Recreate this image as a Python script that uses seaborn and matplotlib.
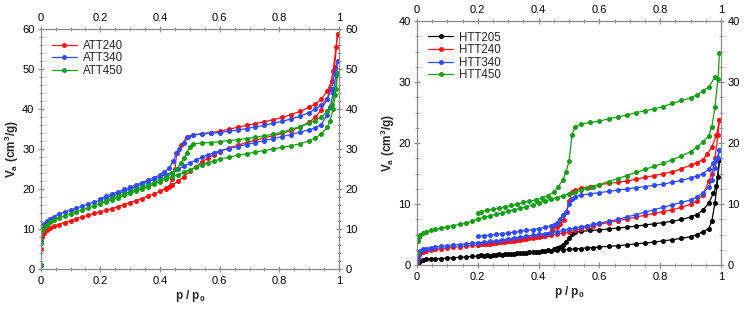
import numpy as np
import pandas as pd
import matplotlib
matplotlib.use("Agg")
import matplotlib.pyplot as plt
from matplotlib.lines import Line2D
from matplotlib.ticker import MultipleLocator, FuncFormatter
import seaborn as sns

# ---------------- data: left panel (ATT) ----------------
p_ads = [0.0005, 0.002, 0.005, 0.01, 0.02, 0.03, 0.045, 0.06, 0.08, 0.1, 0.12, 0.14, 0.16, 0.18,
         0.2, 0.22, 0.24, 0.26, 0.28, 0.3, 0.32, 0.34, 0.36, 0.38, 0.4, 0.42, 0.44, 0.46, 0.48,
         0.5, 0.52, 0.54, 0.56, 0.58, 0.6, 0.63, 0.66, 0.69, 0.72, 0.75, 0.78, 0.81, 0.84, 0.87,
         0.9, 0.92, 0.94, 0.96, 0.97, 0.98, 0.99, 0.995]

ATT240_ads = [1.0, 5.0, 8.0, 9.0, 9.8, 10.3, 10.8, 11.2, 11.7, 12.2, 12.7, 13.1, 13.5, 14.0,
              14.4, 14.8, 15.2, 15.7, 16.2, 16.7, 17.2, 17.7, 18.3, 18.9, 19.5, 20.3, 21.0, 22.0, 23.2,
              24.5, 25.7, 26.8, 27.8, 28.7, 29.4, 30.3, 31.0, 31.7, 32.3, 32.9, 33.4, 34.0, 34.7, 35.6,
              36.8, 38.0, 39.8, 42.5, 45.0, 49.5, 55.5, 58.8]
ATT340_ads = [1.0, 7.0, 10.2, 11.3, 12.0, 12.6, 13.2, 13.8, 14.3, 14.8, 15.3, 15.8, 16.3, 16.8,
              17.3, 17.9, 18.4, 19.0, 19.5, 20.1, 20.7, 21.3, 21.9, 22.5, 23.1, 23.7, 24.2, 25.0, 25.8,
              26.6, 27.3, 28.0, 28.6, 29.1, 29.6, 30.2, 30.7, 31.2, 31.7, 32.2, 32.7, 33.2, 33.7, 34.3,
              34.9, 35.3, 36.2, 38.5, 40.5, 44.0, 48.5, 52.0]
ATT450_ads = [1.0, 6.5, 9.5, 10.6, 11.2, 11.8, 12.4, 12.9, 13.4, 13.9, 14.4, 14.9, 15.4, 15.9,
              16.4, 16.9, 17.4, 17.9, 18.5, 19.0, 19.6, 20.1, 20.7, 21.3, 21.9, 22.5, 23.1, 23.7, 24.3,
              24.9, 25.5, 26.1, 26.6, 27.1, 27.5, 28.0, 28.5, 28.9, 29.3, 29.7, 30.1, 30.5, 30.9, 31.4,
              32.1, 32.8, 33.8, 35.5, 37.0, 40.0, 45.0, 49.0]

ATT240_des_p = [0.995, 0.985, 0.975, 0.96, 0.94, 0.92, 0.9, 0.87, 0.84, 0.81, 0.78, 0.75, 0.72, 0.69,
                0.66, 0.63, 0.6, 0.57, 0.54, 0.51, 0.49, 0.47, 0.456, 0.45, 0.44, 0.43, 0.42]
ATT240_des = [58.8, 50.5, 47.0, 44.5, 42.5, 41.3, 40.5, 39.5, 38.7, 38.0, 37.4, 36.9, 36.4, 36.0,
              35.5, 35.0, 34.5, 34.2, 33.9, 33.6, 33.0, 31.0, 29.0, 25.0, 22.5, 20.6, 20.2]
ATT340_des_p = [0.995, 0.985, 0.975, 0.96, 0.94, 0.92, 0.9, 0.87, 0.84, 0.81, 0.78, 0.75, 0.72, 0.69,
                0.66, 0.63, 0.6, 0.57, 0.54, 0.51, 0.495, 0.48, 0.465, 0.455, 0.445, 0.43, 0.415,
                0.4, 0.38, 0.36, 0.34, 0.32, 0.3, 0.28, 0.26, 0.24, 0.22, 0.2]
ATT340_des = [52.0, 49.0, 45.0, 42.5, 41.0, 40.0, 39.2, 38.3, 37.6, 37.0, 36.5, 36.0, 35.6, 35.2,
              34.8, 34.5, 34.2, 34.0, 33.8, 33.6, 33.0, 31.5, 30.0, 29.0, 27.0, 25.3, 24.3,
              23.6, 22.9, 22.3, 21.7, 21.1, 20.5, 20.0, 19.4, 18.9, 18.3, 17.7]
ATT450_des_p = [0.995, 0.985, 0.975, 0.96, 0.94, 0.92, 0.9, 0.87, 0.84, 0.81, 0.78, 0.75, 0.72, 0.69,
                0.66, 0.63, 0.6, 0.57, 0.54, 0.51, 0.5, 0.49, 0.48, 0.47, 0.455, 0.44, 0.42,
                0.4, 0.38, 0.36, 0.34, 0.32, 0.3, 0.28, 0.26, 0.24, 0.22, 0.2]
ATT450_des = [49.0, 43.5, 41.0, 39.5, 38.0, 37.2, 36.5, 35.7, 35.0, 34.3, 33.8, 33.4, 33.0, 32.7,
              32.4, 32.2, 31.9, 31.7, 31.6, 31.3, 30.5, 29.2, 27.8, 26.5, 25.0, 24.0, 23.0,
              22.3, 21.7, 21.1, 20.5, 20.0, 19.4, 18.9, 18.3, 17.8, 17.2, 16.7]

# ---------------- data: right panel (HTT) ----------------
HTT205_ads = [0.2, 0.4, 0.6, 0.75, 0.85, 0.95, 1.0, 1.05, 1.1, 1.2, 1.25, 1.3, 1.35, 1.45,
              1.5, 1.55, 1.6, 1.7, 1.75, 1.85, 1.9, 2.0, 2.05, 2.15, 2.2, 2.3, 2.4, 2.45, 2.55,
              2.6, 2.7, 2.75, 2.85, 2.9, 3.0, 3.1, 3.2, 3.35, 3.5, 3.65, 3.8, 4.0, 4.2, 4.4,
              4.7, 5.0, 5.5, 6.0, 7.3, 10.2, 14.5, 17.3]
HTT240_ads = [0.5, 1.2, 1.7, 2.0, 2.2, 2.35, 2.5, 2.6, 2.75, 2.85, 2.95, 3.05, 3.15, 3.25,
              3.35, 3.45, 3.55, 3.65, 3.75, 3.9, 4.0, 4.15, 4.3, 4.45, 4.6, 4.75, 4.9, 5.1, 5.3,
              5.5, 5.75, 6.0, 6.25, 6.5, 6.7, 7.0, 7.3, 7.6, 7.9, 8.2, 8.5, 8.8, 9.1, 9.5,
              10.0, 10.5, 11.5, 13.8, 15.0, 17.5, 21.3, 23.8]
HTT340_ads = [0.8, 1.6, 2.1, 2.4, 2.6, 2.75, 2.9, 3.0, 3.1, 3.2, 3.3, 3.4, 3.5, 3.6,
              3.7, 3.8, 3.9, 4.0, 4.15, 4.3, 4.45, 4.6, 4.75, 4.9, 5.05, 5.2, 5.35, 5.5, 5.7,
              5.9, 6.1, 6.3, 6.5, 6.7, 6.9, 7.2, 7.5, 7.9, 8.3, 8.7, 9.1, 9.5, 9.9, 10.3,
              10.7, 11.2, 11.8, 12.8, 14.0, 16.0, 17.5, 18.8]
HTT450_ads = [2.0, 4.0, 4.6, 5.0, 5.3, 5.5, 5.7, 5.9, 6.1, 6.3, 6.5, 6.7, 6.9, 7.2,
              7.6, 7.85, 8.1, 8.35, 8.6, 8.85, 9.1, 9.35, 9.6, 9.9, 10.2, 10.5, 10.8, 11.1, 11.4,
              11.7, 12.0, 12.3, 12.6, 12.9, 13.2, 13.7, 14.2, 14.7, 15.2, 15.7, 16.2, 16.7, 17.3, 17.9,
              18.6, 19.3, 20.2, 21.2, 22.7, 25.9, 30.5, 34.7]

HTT205_des_p = [0.995, 0.985, 0.975, 0.96, 0.94, 0.92, 0.9, 0.87, 0.84, 0.81, 0.78, 0.75, 0.72, 0.69,
                0.66, 0.63, 0.6, 0.57, 0.54, 0.52, 0.51, 0.5, 0.49, 0.48, 0.47, 0.46, 0.45, 0.43,
                0.41, 0.39, 0.37, 0.35, 0.33, 0.31, 0.29, 0.27, 0.25, 0.23, 0.21, 0.2]
HTT205_des = [17.3, 13.0, 11.8, 10.2, 9.0, 8.3, 7.9, 7.5, 7.2, 7.0, 6.8, 6.6, 6.4, 6.25,
              6.1, 5.95, 5.8, 5.7, 5.55, 5.4, 5.2, 4.5, 3.8, 3.3, 3.0, 2.8, 2.6, 2.45,
              2.35, 2.25, 2.15, 2.05, 2.0, 1.9, 1.85, 1.8, 1.75, 1.7, 1.65, 1.6]
HTT240_des_p = [0.995, 0.985, 0.97, 0.955, 0.94, 0.92, 0.9, 0.87, 0.84, 0.81, 0.78, 0.75, 0.72, 0.69,
                0.66, 0.63, 0.6, 0.57, 0.54, 0.52, 0.51, 0.5, 0.493, 0.482, 0.47, 0.46, 0.444, 0.43,
                0.41, 0.39, 0.37, 0.35, 0.33, 0.31, 0.29, 0.27, 0.25, 0.23, 0.21, 0.2]
HTT240_des = [23.8, 21.3, 19.4, 18.2, 17.3, 16.8, 16.4, 15.8, 15.3, 15.0, 14.7, 14.4, 14.1, 13.8,
              13.6, 13.4, 13.2, 12.9, 12.6, 12.3, 12.0, 10.5, 8.8, 7.4, 6.8, 6.3, 5.8, 5.1,
              4.8, 4.6, 4.4, 4.25, 4.1, 4.0, 3.85, 3.75, 3.65, 3.55, 3.45, 3.4]
HTT340_des_p = [0.995, 0.985, 0.975, 0.96, 0.94, 0.92, 0.9, 0.87, 0.84, 0.81, 0.78, 0.75, 0.72, 0.69,
                0.66, 0.63, 0.6, 0.57, 0.54, 0.52, 0.51, 0.5, 0.49, 0.48, 0.47, 0.46, 0.45, 0.44,
                0.42, 0.4, 0.38, 0.36, 0.34, 0.32, 0.3, 0.28, 0.26, 0.24, 0.22, 0.2]
HTT340_des = [18.8, 17.3, 16.7, 15.8, 15.0, 14.6, 14.3, 13.9, 13.6, 13.3, 13.1, 12.9, 12.7, 12.5,
              12.3, 12.1, 11.9, 11.7, 11.5, 11.2, 10.8, 10.0, 8.8, 8.2, 7.6, 7.0, 6.6, 6.4,
              6.2, 6.0, 5.85, 5.7, 5.55, 5.4, 5.3, 5.2, 5.05, 4.95, 4.85, 4.75]
HTT450_des_p = [0.98, 0.96, 0.94, 0.92, 0.9, 0.87, 0.84, 0.81, 0.78, 0.75, 0.72, 0.69, 0.66, 0.63,
                0.6, 0.57, 0.54, 0.52, 0.51, 0.5, 0.49, 0.48, 0.465, 0.45, 0.43, 0.41, 0.39, 0.37,
                0.35, 0.33, 0.31, 0.29, 0.27, 0.25, 0.23, 0.21, 0.2]
HTT450_des = [30.8, 29.2, 28.5, 27.9, 27.4, 27.0, 26.5, 26.0, 25.6, 25.3, 25.0, 24.6, 24.3, 24.0,
              23.6, 23.4, 23.1, 22.7, 21.3, 17.0, 15.3, 14.0, 12.9, 12.0, 11.4, 11.0, 10.7, 10.5,
              10.3, 10.0, 9.8, 9.6, 9.4, 9.2, 9.0, 8.8, 8.6]

left_samples = ["ATT240", "ATT340", "ATT450"]
right_samples = ["HTT205", "HTT240", "HTT340", "HTT450"]
colors = {"ATT240": "#ff1010", "ATT340": "#2c4cff", "ATT450": "#14a014",
          "HTT205": "#000000", "HTT240": "#ff1010", "HTT340": "#2c4cff", "HTT450": "#14a014"}


def make_df(entries):
    rows = []
    for name, ap, av, dp, dv in entries:
        for x, y in zip(ap, av):
            rows.append((name, "ads", x, y))
        for x, y in zip(dp, dv):
            rows.append((name, "des", x, y))
    return pd.DataFrame(rows, columns=["sample", "branch", "p", "V"])


df_left = make_df([
    ("ATT240", p_ads, ATT240_ads, ATT240_des_p, ATT240_des),
    ("ATT340", p_ads, ATT340_ads, ATT340_des_p, ATT340_des),
    ("ATT450", p_ads, ATT450_ads, ATT450_des_p, ATT450_des),
])
df_right = make_df([
    ("HTT205", p_ads, HTT205_ads, HTT205_des_p, HTT205_des),
    ("HTT240", p_ads, HTT240_ads, HTT240_des_p, HTT240_des),
    ("HTT340", p_ads, HTT340_ads, HTT340_des_p, HTT340_des),
    ("HTT450", p_ads, HTT450_ads, HTT450_des_p, HTT450_des),
])

sns.set_style("ticks")
plt.rcParams["font.family"] = ["Liberation Sans", "DejaVu Sans"]
plt.rcParams["mathtext.fontset"] = "custom"
plt.rcParams["mathtext.rm"] = "Liberation Sans:bold"
plt.rcParams["mathtext.it"] = "Liberation Sans:bold"
plt.rcParams["mathtext.bf"] = "Liberation Sans:bold"

W, H = 745, 311
fig = plt.figure(figsize=(W / 100, H / 100), dpi=100)
ax1 = fig.add_axes([40.7 / W, 1 - 269.3 / H, (339 - 40.7) / W, (269.3 - 29.3) / H])
ax2 = fig.add_axes([417 / W, 1 - 265.3 / H, (721 - 417) / W, (265.3 - 21) / H])

spine_col = "#8a8a8a"
fs = 8.0
fs_leg = 8.3
fs_lab = 8.5


def style(ax, ymax, ymajor, yminor):
    ax.set_xlim(0, 1)
    ax.set_ylim(0, ymax)
    ax.xaxis.set_major_locator(MultipleLocator(0.2))
    ax.xaxis.set_minor_locator(MultipleLocator(0.05))
    ax.yaxis.set_major_locator(MultipleLocator(ymajor))
    ax.yaxis.set_minor_locator(MultipleLocator(yminor))
    ax.xaxis.set_major_formatter(FuncFormatter(lambda v, _: f"{v:g}"))
    ax.yaxis.set_major_formatter(FuncFormatter(lambda v, _: f"{v:g}"))
    for s in ax.spines.values():
        s.set_visible(True)
        s.set_color(spine_col)
        s.set_linewidth(0.9)
    ax.tick_params(which="both", top=True, right=True, labeltop=True, labelright=True,
                   direction="inout", color=spine_col, labelsize=fs, labelcolor="black", pad=2)
    ax.tick_params(which="major", length=5, width=0.8)
    ax.tick_params(which="minor", length=3, width=0.6)
    ax.set_xlabel("p / p$_0$", fontsize=fs_lab, fontweight="bold", labelpad=2)
    ax.set_ylabel("V$_a$ (cm$^3$/g)", fontsize=fs_lab, fontweight="bold", labelpad=1)


for ax, df, samples in [(ax1, df_left, left_samples), (ax2, df_right, right_samples)]:
    sns.lineplot(data=df, x="p", y="V", hue="sample", units="branch", estimator=None,
                 sort=False, palette={s: colors[s] for s in samples}, hue_order=samples,
                 marker="o", markersize=3.6, markeredgewidth=0, linewidth=0.9,
                 legend=False, ax=ax)
    handles = [Line2D([], [], color=colors[s], marker="o", markersize=3.6,
                      markeredgewidth=0, linewidth=0.9) for s in samples]
    ax.legend(handles, samples, loc="upper left", frameon=False, fontsize=fs_leg,
              handlelength=2.2, handletextpad=0.5, labelspacing=0.05,
              borderaxespad=0.3, bbox_to_anchor=(0.01, 0.99))

style(ax1, 60, 10, 2)
style(ax2, 40, 10, 2.5)

fig.savefig("out.png", dpi=100)
